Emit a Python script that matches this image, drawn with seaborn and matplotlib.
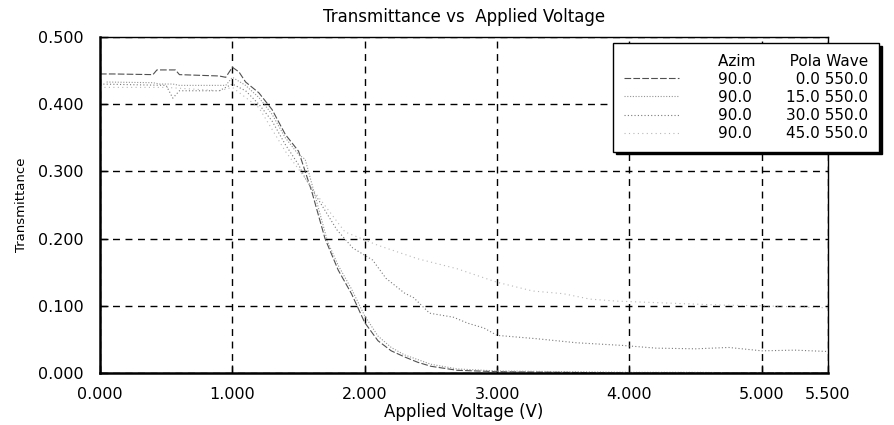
import numpy as np
import pandas as pd
import matplotlib
matplotlib.use("Agg")
import matplotlib.pyplot as plt
from matplotlib.lines import Line2D
import seaborn as sns

# values
volt_p0 = [0.0, 0.1, 0.4, 0.43, 0.57, 0.6, 0.9, 0.95, 1.0, 1.05, 1.1, 1.2, 1.3, 1.4, 1.5,
           1.6, 1.7, 1.8, 1.9, 2.0, 2.1, 2.2, 2.3, 2.4, 2.5, 2.7, 3.0, 3.5, 4.0, 4.5, 5.0, 5.5]
trans_p0 = [0.445, 0.445, 0.444, 0.451, 0.451, 0.444, 0.442, 0.440, 0.455, 0.448, 0.433, 0.417,
            0.392, 0.355, 0.330, 0.270, 0.200, 0.153, 0.118, 0.075, 0.048, 0.033, 0.024, 0.016,
            0.010, 0.004, 0.002, 0.001, 0.0, 0.0, 0.0, 0.0]

volt_p15 = [0.05, 0.4, 0.45, 0.55, 0.6, 0.95, 1.0, 1.1, 1.2, 1.3, 1.4, 1.5, 1.55, 1.72, 1.8,
            1.9, 2.0, 2.1, 2.2, 2.3, 2.4, 2.5, 2.7, 3.0, 3.5, 4.0, 4.5, 5.0, 5.5]
trans_p15 = [0.433, 0.432, 0.430, 0.430, 0.428, 0.428, 0.440, 0.428, 0.410, 0.385, 0.350, 0.325,
             0.318, 0.195, 0.160, 0.125, 0.085, 0.055, 0.038, 0.027, 0.020, 0.013, 0.006, 0.003,
             0.002, 0.001, 0.001, 0.0, 0.0]

volt_p30 = [0.0, 0.5, 0.55, 0.6, 0.9, 1.0, 1.1, 1.2, 1.3, 1.4, 1.5, 1.55, 1.79, 1.91, 2.06,
            2.16, 2.3, 2.37, 2.49, 2.67, 2.78, 2.9, 3.0, 3.3, 3.6, 3.95, 4.2, 4.5, 4.75, 5.0,
            5.25, 5.5]
trans_p30 = [0.430, 0.428, 0.409, 0.420, 0.420, 0.430, 0.420, 0.400, 0.375, 0.340, 0.310, 0.290,
             0.213, 0.186, 0.168, 0.141, 0.119, 0.112, 0.089, 0.083, 0.074, 0.067, 0.056, 0.051,
             0.045, 0.041, 0.037, 0.036, 0.038, 0.033, 0.034, 0.032]

volt_p45 = [0.0, 0.5, 0.9, 1.0, 1.2, 1.4, 1.55, 1.6, 1.85, 2.1, 2.4, 2.7, 3.0, 3.27, 3.5,
            3.7, 3.9, 4.3, 4.7, 5.0, 5.5]
trans_p45 = [0.425, 0.425, 0.420, 0.425, 0.395, 0.330, 0.290, 0.275, 0.210, 0.190, 0.170, 0.155,
             0.135, 0.122, 0.118, 0.110, 0.107, 0.104, 0.101, 0.100, 0.097]

azim = ["90.0", "90.0", "90.0", "90.0"]
pola = ["0.0", "15.0", "30.0", "45.0"]
wave = ["550.0", "550.0", "550.0", "550.0"]

x_ticks = [0.0, 1.0, 2.0, 3.0, 4.0, 5.0, 5.5]
y_ticks = [0.0, 0.1, 0.2, 0.3, 0.4, 0.5]

sns.set_style("white")
plt.rcParams['font.family'] = ['DejaVu Sans']
plt.rcParams['text.color'] = "black"
plt.rcParams['axes.labelcolor'] = "black"
plt.rcParams['xtick.color'] = "black"
plt.rcParams['ytick.color'] = "black"

fig = plt.figure(figsize=(8.95, 4.25), dpi=100)
ax = fig.add_axes([100 / 895, 1 - 373 / 425, 728 / 895, 336 / 425])

series = [
    (volt_p0, trans_p0, "#505050", (0, (6, 2)), 0.8),
    (volt_p15, trans_p15, "#959595", (0, (1, 1.5)), 0.8),
    (volt_p30, trans_p30, "#7a7a7a", (0, (1, 2)), 0.8),
    (volt_p45, trans_p45, "#b8b8b8", (0, (1, 3)), 0.8),
]
handles = [Line2D([], [], linestyle="none")]
for vx, ty, col, ls, lw in series:
    df = pd.DataFrame({"volt": vx, "trans": ty})
    sns.lineplot(data=df, x="volt", y="trans", ax=ax, color=col, linewidth=lw,
                 linestyle=ls, sort=False)
    handles.append(Line2D([], [], color=col, linewidth=lw, linestyle=ls))

ax.set_xlim(0, 5.5)
ax.set_ylim(0, 0.5)
ax.set_xticks(x_ticks)
ax.set_yticks(y_ticks)
ax.set_xticklabels([f"{v:.3f}" for v in x_ticks])
ax.set_yticklabels([f"{v:.3f}" for v in y_ticks])
ax.tick_params(axis="both", labelsize=11.5, direction="in", length=6, width=1,
               color="black", left=True, bottom=True)
ax.tick_params(axis="x", pad=10)
ax.tick_params(axis="y", pad=12)

ax.grid(True, color="black", linestyle=(0, (5, 4)), linewidth=1.0)
for side in ["left", "bottom"]:
    ax.spines[side].set_linewidth(1.8)
for side in ["top", "right"]:
    ax.spines[side].set_linewidth(1.0)
for s in ax.spines.values():
    s.set_color("black")

ax.set_title("Transmittance vs  Applied Voltage", fontsize=12, pad=11)
ax.set_xlabel("Applied Voltage (V)", fontsize=12, labelpad=1)
ax.set_ylabel("Transmittance", fontsize=9.5, labelpad=7)

# legend rows, columns padded with spaces (2 spaces = 1 digit in DejaVu Sans)
labels = ["Azim" + " " * 7 + "Pola Wave"]
for a, p, w in zip(azim, pola, wave):
    gap = 7 + 2 * (4 - len(p))
    labels.append(f"{a}{' ' * gap}{p} {w}")

leg = ax.legend(handles, labels, loc="upper left", bbox_to_anchor=(613 / 895, 1 - 43 / 425),
                bbox_transform=fig.transFigure, fontsize=11, frameon=True, fancybox=False,
                shadow={"color": "black", "alpha": 1}, edgecolor="black", framealpha=1,
                handlelength=3.6, handletextpad=2.6, labelspacing=0.2, borderpad=0.7,
                borderaxespad=0)
leg.get_frame().set_linewidth(1.0)

fig.savefig("out.png", dpi=100)
